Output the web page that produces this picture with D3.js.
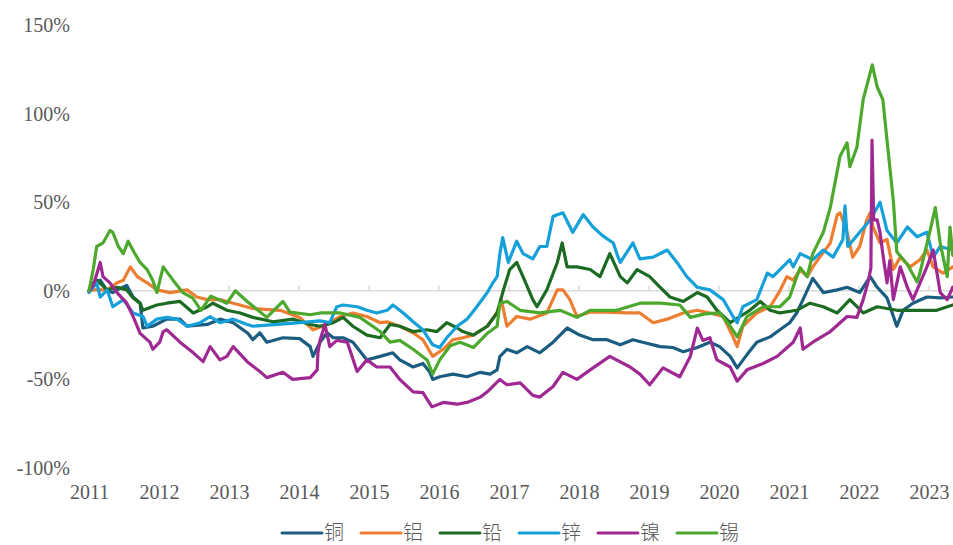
<!DOCTYPE html>
<html>
<head>
<meta charset="utf-8">
<script src="https://cdn.jsdelivr.net/npm/d3@7"></script>
<style>
  body { margin: 0; background: #fff; }
  svg { display: block; }
</style>
</head>
<body>
<svg class="d3-content" width="953" height="545"></svg>
<script>
//data: [year, % change since start of 2011]
const names = ['铜', '铝', '铅', '锌', '镍', '锡']
const colors = ['#1b5d80', '#ed7d31', '#1c6b22', '#16a0d9', '#a02893', '#4da82e']
const yearTicks = [2011, 2012, 2013, 2014, 2015, 2016, 2017, 2018, 2019, 2020, 2021, 2022, 2023]
const pctTicks = [-100, -50, 0, 50, 100, 150]

const copper = [[2011.0,0],[2011.06,4.5],[2011.16,6],[2011.26,0],[2011.34,-1],[2011.4,0.5],[2011.54,3],[2011.63,-3.5],[2011.73,-7],[2011.77,-21],[2011.91,-20],[2012.11,-16],[2012.3,-16],[2012.4,-20],[2012.69,-19],[2012.87,-16],[2013.06,-18],[2013.27,-24],[2013.34,-27.6],[2013.44,-23.7],[2013.54,-29],[2013.77,-26.5],[2014.01,-27],[2014.16,-31.5],[2014.2,-37],[2014.3,-29],[2014.4,-23.7],[2014.49,-26.5],[2014.63,-26.5],[2014.77,-29],[2014.97,-39],[2015.16,-37],[2015.34,-35],[2015.44,-39],[2015.63,-43],[2015.77,-41],[2015.87,-46],[2015.91,-50],[2016.01,-48.5],[2016.2,-47],[2016.4,-48.5],[2016.59,-46],[2016.73,-47],[2016.83,-44.6],[2016.87,-37],[2016.97,-33],[2017.11,-35],[2017.26,-31.5],[2017.44,-35],[2017.63,-29],[2017.83,-21],[2018.01,-25],[2018.2,-27.6],[2018.4,-27.6],[2018.59,-30.5],[2018.77,-27.6],[2018.91,-29],[2019.16,-31.5],[2019.34,-32],[2019.49,-34.4],[2019.69,-32],[2019.87,-29],[2020.01,-31.5],[2020.16,-37],[2020.26,-43.5],[2020.4,-36],[2020.54,-29],[2020.73,-26],[2020.87,-22],[2021.01,-18],[2021.11,-12.5],[2021.2,-5],[2021.34,7],[2021.49,-1],[2021.69,0.5],[2021.83,2],[2022.01,-1],[2022.16,8],[2022.26,2],[2022.4,-4],[2022.54,-20],[2022.63,-11],[2022.77,-7],[2022.97,-3.5],[2023.16,-4],[2023.34,-3.5]]

const aluminium = [[2011.0,0],[2011.06,0.5],[2011.26,0.5],[2011.4,4.5],[2011.49,6],[2011.59,13.5],[2011.69,8],[2011.83,4.5],[2011.97,0.5],[2012.16,-1],[2012.4,0.5],[2012.54,-3.5],[2012.69,-5],[2012.87,-5],[2013.06,-7],[2013.34,-10],[2013.73,-11],[2014.01,-15],[2014.2,-22],[2014.4,-19],[2014.59,-14.5],[2014.77,-12.5],[2014.97,-14.5],[2015.16,-18],[2015.26,-17.5],[2015.44,-20],[2015.63,-23.7],[2015.77,-27.6],[2015.91,-37],[2016.06,-33],[2016.2,-27.6],[2016.34,-26.5],[2016.49,-25],[2016.69,-20],[2016.83,-12],[2016.89,-5],[2016.97,-20],[2017.11,-14.5],[2017.3,-16],[2017.54,-12.5],[2017.69,0.5],[2017.77,0.5],[2017.87,-5],[2017.97,-14.5],[2018.16,-12],[2018.4,-12],[2018.69,-12.5],[2018.87,-12.5],[2019.06,-18],[2019.26,-16],[2019.49,-12.5],[2019.69,-11],[2019.87,-12.5],[2020.06,-14.5],[2020.2,-26],[2020.26,-31.5],[2020.34,-20],[2020.54,-12.5],[2020.73,-9],[2020.87,0],[2020.97,8],[2021.06,6],[2021.16,12],[2021.26,8],[2021.34,13.5],[2021.44,19],[2021.59,27],[2021.69,43],[2021.73,44],[2021.83,33],[2021.91,19],[2022.01,25],[2022.11,40],[2022.16,44],[2022.2,36],[2022.3,27],[2022.4,29],[2022.49,12],[2022.59,19],[2022.73,13.5],[2022.87,17.5],[2022.97,23],[2023.06,13.5],[2023.2,10],[2023.34,13.5]]

const lead = [[2011.0,0],[2011.11,6],[2011.26,0.5],[2011.4,2],[2011.54,0.5],[2011.63,-4],[2011.73,-7],[2011.77,-11],[2011.97,-8],[2012.11,-7],[2012.3,-6],[2012.49,-12.5],[2012.69,-9],[2012.77,-7],[2012.97,-11],[2013.16,-12.5],[2013.34,-15],[2013.63,-17.5],[2013.91,-16],[2014.16,-19],[2014.3,-20],[2014.49,-18],[2014.63,-15],[2014.77,-20],[2014.97,-25],[2015.16,-26.5],[2015.3,-19],[2015.44,-20],[2015.63,-23],[2015.83,-22],[2015.97,-23],[2016.11,-18],[2016.26,-21],[2016.34,-23],[2016.49,-25],[2016.69,-20],[2016.83,-12.5],[2016.91,-1],[2017.01,12],[2017.11,16],[2017.2,8],[2017.34,-5],[2017.4,-9],[2017.54,0.5],[2017.69,16],[2017.76,27],[2017.83,13.5],[2017.97,13.5],[2018.16,12],[2018.3,8],[2018.44,21],[2018.59,8],[2018.69,4.5],[2018.83,12],[2019.01,8],[2019.16,2],[2019.3,-3.5],[2019.49,-6],[2019.69,-1],[2019.83,-3.5],[2019.97,-11],[2020.16,-18],[2020.3,-14.5],[2020.44,-11],[2020.59,-6],[2020.73,-11],[2020.87,-12.5],[2021.11,-11],[2021.3,-7],[2021.49,-9],[2021.69,-12.5],[2021.87,-5],[2022.06,-12.5],[2022.26,-9],[2022.54,-11],[2022.83,-11],[2023.11,-11],[2023.34,-8]]

const zinc = [[2011.0,-1],[2011.11,4.5],[2011.16,-3.5],[2011.26,0.5],[2011.34,-9],[2011.49,-5],[2011.63,-12.5],[2011.77,-14.5],[2011.83,-20],[2011.97,-16],[2012.11,-15],[2012.26,-16],[2012.4,-20],[2012.59,-18],[2012.73,-14.5],[2012.87,-18],[2013.06,-16],[2013.26,-19],[2013.34,-20],[2013.69,-19],[2014.01,-18],[2014.3,-17],[2014.44,-18],[2014.54,-9],[2014.63,-8],[2014.83,-9],[2014.97,-11],[2015.11,-12.5],[2015.26,-11],[2015.34,-8],[2015.49,-12.5],[2015.63,-17.5],[2015.77,-22],[2015.91,-30.5],[2016.01,-32],[2016.11,-26.5],[2016.26,-20],[2016.4,-16],[2016.54,-9],[2016.69,-1],[2016.77,4.5],[2016.83,8],[2016.87,21],[2016.91,30],[2016.99,16],[2017.11,28],[2017.2,21],[2017.34,18],[2017.44,25],[2017.54,25],[2017.63,42],[2017.77,44],[2017.91,33],[2018.06,43],[2018.2,36],[2018.34,31],[2018.49,27],[2018.54,21],[2018.59,16],[2018.77,27],[2018.87,18],[2019.06,19],[2019.26,23],[2019.4,16],[2019.54,8],[2019.69,2],[2019.87,0.5],[2020.06,-5],[2020.2,-14.5],[2020.26,-18],[2020.34,-9],[2020.54,-5],[2020.69,10],[2020.77,8],[2020.91,13.5],[2021.01,17.5],[2021.06,13.5],[2021.16,21],[2021.34,17.5],[2021.49,23],[2021.63,19],[2021.77,29],[2021.8,48],[2021.84,25],[2022.01,33],[2022.16,40],[2022.26,47],[2022.3,50],[2022.4,34],[2022.54,27],[2022.69,36],[2022.83,30.5],[2022.97,33],[2023.06,19],[2023.16,25],[2023.34,23]]

const nickel = [[2011.0,0],[2011.06,3],[2011.16,16],[2011.2,8],[2011.3,4.5],[2011.4,-1],[2011.54,-7],[2011.63,-14.5],[2011.73,-24],[2011.87,-29],[2011.91,-33],[2012.01,-29],[2012.06,-23],[2012.11,-22],[2012.3,-29],[2012.49,-35],[2012.63,-40],[2012.73,-31.5],[2012.87,-39],[2012.97,-37],[2013.06,-31.5],[2013.26,-40],[2013.44,-45.5],[2013.54,-49],[2013.77,-46],[2013.91,-50],[2014.16,-49],[2014.26,-44.6],[2014.27,-35],[2014.3,-28],[2014.37,-19],[2014.44,-31.5],[2014.54,-28],[2014.69,-29],[2014.83,-45.5],[2014.97,-39],[2015.11,-43],[2015.3,-43],[2015.44,-50],[2015.63,-57],[2015.77,-57.5],[2015.9,-65.5],[2016.06,-63],[2016.26,-64],[2016.4,-63],[2016.59,-60],[2016.69,-57],[2016.87,-50],[2016.97,-53],[2017.16,-52],[2017.34,-59],[2017.44,-60],[2017.63,-54],[2017.77,-46],[2017.97,-50],[2018.16,-44.6],[2018.44,-37],[2018.73,-43],[2018.87,-47],[2019.01,-53],[2019.2,-43.5],[2019.44,-48.5],[2019.59,-37],[2019.69,-21],[2019.77,-28],[2019.87,-26.5],[2019.97,-39],[2020.16,-43],[2020.26,-51],[2020.4,-44.6],[2020.63,-41],[2020.83,-37],[2021.06,-29],[2021.16,-21],[2021.2,-33],[2021.34,-29],[2021.59,-23],[2021.83,-14.5],[2021.97,-15],[2022.06,-5],[2022.13,5],[2022.17,13],[2022.186,85],[2022.21,40],[2022.26,40],[2022.3,33],[2022.34,21],[2022.4,4.5],[2022.44,17],[2022.49,-5],[2022.59,13.5],[2022.69,2],[2022.77,-5],[2022.97,13.5],[2023.06,23],[2023.16,-1],[2023.26,-5],[2023.34,2]]

const tin = [[2011.0,0],[2011.06,12],[2011.11,25],[2011.2,27],[2011.3,34],[2011.34,33],[2011.42,25],[2011.49,21],[2011.56,28],[2011.64,22],[2011.73,16],[2011.83,12],[2011.91,6],[2011.97,-1],[2012.06,13.5],[2012.2,6],[2012.34,-1],[2012.48,-4],[2012.6,-11],[2012.74,-3],[2012.97,-7],[2013.09,0],[2013.26,-6],[2013.54,-15],[2013.77,-6],[2013.87,-12],[2014.16,-13.5],[2014.3,-12.5],[2014.59,-12.5],[2014.87,-15],[2015.16,-23],[2015.3,-29],[2015.44,-28],[2015.63,-33],[2015.83,-39],[2015.91,-47],[2016.01,-39],[2016.16,-31],[2016.3,-29],[2016.49,-32],[2016.69,-24],[2016.83,-20],[2016.87,-7],[2016.97,-6],[2017.16,-11],[2017.44,-12.5],[2017.73,-11],[2017.97,-15],[2018.16,-11],[2018.54,-11],[2018.87,-7],[2019.16,-7],[2019.44,-8],[2019.59,-15],[2019.8,-13],[2020.01,-12.5],[2020.16,-20],[2020.26,-26],[2020.4,-14.5],[2020.63,-9],[2020.87,-9],[2021.01,-3.5],[2021.11,8],[2021.16,13],[2021.26,8],[2021.34,21],[2021.49,33],[2021.59,47],[2021.73,76],[2021.83,83.5],[2021.87,70],[2021.97,81],[2022.06,108],[2022.19,127.5],[2022.26,115],[2022.34,108],[2022.4,85],[2022.49,51],[2022.54,22],[2022.69,15],[2022.83,5],[2022.87,10],[2023.01,33],[2023.09,47],[2023.16,27],[2023.26,8],[2023.3,36],[2023.34,20]]

const series = [copper, aluminium, lead, zinc, nickel, tin]

//dimensions
const w = 953
const h = 545

//scales
const xScale = d3.scaleLinear()
    .domain([2011, 2023])
    .range([89, 929])
const yScale = d3.scaleLinear()
    .domain([-100, 150])
    .range([468, 25])

const svg = d3.select('.d3-content')
const textColor = '#595959'

//zero line with year ticks
svg.append('line')
    .attr('x1', xScale(2011))
    .attr('x2', w)
    .attr('y1', yScale(0))
    .attr('y2', yScale(0))
    .attr('stroke', '#d9d9d9')
    .attr('stroke-width', 1.5)
svg.append('g')
    .selectAll('line')
    .data(yearTicks)
    .join('line')
    .attr('x1', d => xScale(d))
    .attr('x2', d => xScale(d))
    .attr('y1', yScale(0))
    .attr('y2', yScale(0) - 5)
    .attr('stroke', '#d9d9d9')
    .attr('stroke-width', 1.5)

//axes
const yAxis = d3.axisLeft(yScale)
    .tickValues(pctTicks)
    .tickSize(0)
    .tickPadding(0)
    .tickFormat(d => d + '%')
const yG = svg.append('g')
    .attr('transform', 'translate(70, 0)')
    .call(yAxis)
yG.select('.domain').remove()
yG.selectAll('text')
    .attr('font-family', '"Liberation Serif", "Times New Roman", serif')
    .attr('font-size', 20)
    .attr('fill', textColor)

const xAxis = d3.axisBottom(xScale)
    .tickValues(yearTicks)
    .tickSize(0)
    .tickPadding(0)
    .tickFormat(d3.format('d'))
const xG = svg.append('g')
    .attr('transform', 'translate(0, 485)')
    .call(xAxis)
xG.select('.domain').remove()
xG.selectAll('text')
    .attr('font-family', '"Liberation Serif", "Times New Roman", serif')
    .attr('font-size', 20)
    .attr('fill', textColor)

//lines
const line = d3.line()
    .x(d => xScale(d[0]))
    .y(d => yScale(d[1]))

svg.append('defs').append('clipPath')
    .attr('id', 'plot-clip')
    .append('rect')
    .attr('x', 0)
    .attr('y', 0)
    .attr('width', w)
    .attr('height', h)

svg.append('g')
    .attr('clip-path', 'url(#plot-clip)')
    .selectAll('path')
    .data(series)
    .join('path')
    .attr('d', d => line(d))
    .attr('fill', 'none')
    .attr('stroke', (d, i) => colors[i])
    .attr('stroke-width', 3.2)
    .attr('stroke-linejoin', 'round')
    .attr('stroke-linecap', 'round')

//legend
const legend = svg.append('g')
    .selectAll('g')
    .data(names)
    .join('g')
    .attr('transform', (d, i) => `translate(${282 + i * 79}, 533)`)
legend.append('line')
    .attr('x1', 0)
    .attr('x2', 40)
    .attr('y1', 0)
    .attr('y2', 0)
    .attr('stroke', (d, i) => colors[i])
    .attr('stroke-width', 3)
    .attr('stroke-linecap', 'round')
legend.append('text')
    .attr('x', 42)
    .attr('y', 7)
    .attr('font-family', '"Noto Sans CJK SC", sans-serif')
    .attr('font-weight', 300)
    .attr('font-size', 20)
    .attr('fill', textColor)
    .text(d => d)
</script>
</body>
</html>
